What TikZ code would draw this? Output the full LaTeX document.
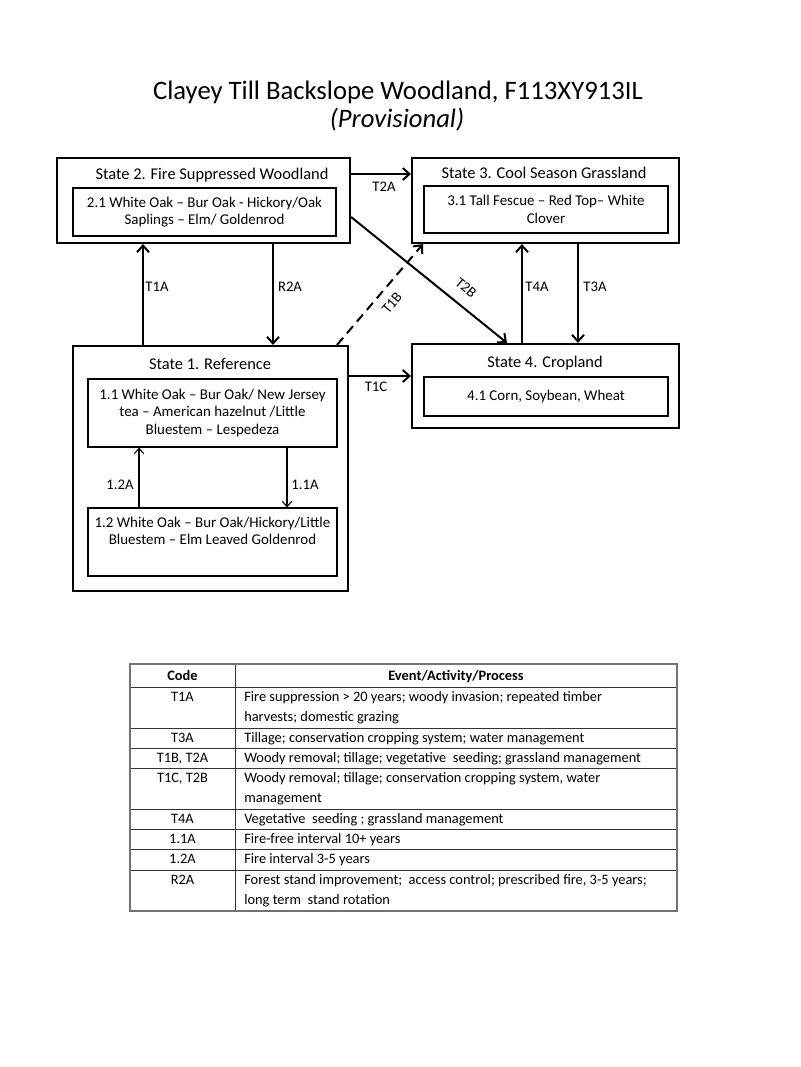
\documentclass[tikz,border=0pt]{standalone}
\usepackage{fontspec}
\setmainfont{Carlito}
\usetikzlibrary{arrows.meta,calc}
\newcommand\myd{\fontsize{11.2}{13.1}\selectfont}
\newcommand\mys{\fontsize{12.3}{14}\selectfont}
\newcommand\myl{\fontsize{11}{13}\selectfont}
\newcommand\myt{\fontsize{10.8}{12}\selectfont}
\newcommand\myh{\fontsize{20}{24}\selectfont}
\begin{document}
\begin{tikzpicture}[x=0.75pt,y=-0.75pt,
  outerbox/.style={draw, line width=1.6pt, inner sep=0pt},
  innerbox/.style={draw, line width=0.8pt, inner sep=0pt, align=center, font=\myd},
  ttl/.style={font=\mys, anchor=base},
  lbl/.style={font=\myl, inner sep=1pt},
  thk/.style={line width=1.5pt, -{Straight Barb[length=5pt,width=9pt]}},
  thn/.style={line width=0.8pt, -{Straight Barb[length=4pt,width=7pt]}},
  tline/.style={line width=0.7pt, draw=black!80},
  tframe/.style={line width=1pt, draw=black!55},
  tcell/.style={font=\myt, anchor=base west, inner sep=0pt},
  tcode/.style={font=\myt, anchor=base, inner sep=0pt}]
\useasboundingbox (0,0) rectangle (800,1067);
\fill[white] (0,0) rectangle (800,1067);

% titles
\node[font=\myh, anchor=base] (title) at (398,99) {Clayey Till Backslope Woodland, F113XY913IL};
\node[font=\myh\itshape, anchor=base] (subtitle) at (397,127) {(Provisional)};

% state boxes
\node[outerbox, minimum width=219.75pt, minimum height=63.75pt] (s2) at (203.5,200.5) {};
\node[outerbox, minimum width=200.25pt, minimum height=63.75pt] (s3) at (545.5,200.5) {};
\node[outerbox, minimum width=200.25pt, minimum height=63pt] (s4) at (545.5,386) {};
\node[outerbox, minimum width=206.25pt, minimum height=183.75pt] (s1) at (210.5,468.5) {};

\node[ttl] (s2t) at (212,179) {State 2. Fire Suppressed Woodland};
\node[ttl] (s3t) at (544,178) {State 3. Cool Season Grassland};
\node[ttl] (s4t) at (545,367) {State 4. Cropland};
\node[ttl] (s1t) at (210,369) {State 1. Reference};

% community boxes
\node[innerbox, minimum width=197.25pt, minimum height=36pt] (i21) at (204.5,212)
  {2.1 White Oak -- Bur Oak - Hickory/Oak\\Saplings -- Elm/ Goldenrod};
\node[innerbox, minimum width=183pt, minimum height=35.25pt] (i31) at (546,209.5)
  {3.1 Tall Fescue -- Red Top-- White\\Clover};
\node[innerbox, minimum width=183pt, minimum height=29.25pt] (i41) at (546,396.5)
  {4.1 Corn, Soybean, Wheat};
\node[innerbox, minimum width=186.75pt, minimum height=51pt] (i11) at (212.5,413)
  {1.1 White Oak -- Bur Oak/ New Jersey\\tea -- American hazelnut /Little\\Bluestem -- Lespedeza};
\node[innerbox, minimum width=186.75pt, minimum height=51pt] (i12) at (212.5,542)
  {1.2 White Oak -- Bur Oak/Hickory/Little\\Bluestem -- Elm Leaved Goldenrod\\ \strut};

% helper coordinates
\coordinate (xa) at (143,0);
\coordinate (xb) at (273,0);
\coordinate (xc) at (507,0);
\coordinate (xd) at (337,0);
\coordinate (xe) at (423,0);
\coordinate (xf) at (522,0);
\coordinate (xg) at (578,0);
\coordinate (xh) at (139,0);
\coordinate (xi) at (287,0);
\coordinate (ya) at (0,174);
\coordinate (yb) at (0,376);
\coordinate (yc) at (0,217);

% transitions
\draw[thk] (s1.north -| xa) -- (s2.south -| xa);
\draw[thk] (s2.south -| xb) -- (s1.north -| xb);
\draw[thk] (s2.east |- ya) -- (s3.west |- ya);
\draw[thk] (s1.east |- yb) -- (s4.west |- yb);
\draw[thk] (s2.east |- yc) -- (s4.north -| xc);
\draw[thk, dash pattern=on 7pt off 4.5pt] (s1.north -| xd) -- (s3.south -| xe);
\draw[thk] (s4.north -| xf) -- (s3.south -| xf);
\draw[thk] (s3.south -| xg) -- (s4.north -| xg);
\draw[thn] (i12.north -| xh) -- (i11.south -| xh);
\draw[thn] (i11.south -| xi) -- (i12.north -| xi);

% labels
\node[lbl] (lT1A) at (157,287) {T1A};
\node[lbl] (lR2A) at (290,287) {R2A};
\node[lbl] (lT2A) at (384,187) {T2A};
\node[lbl] (lT1C) at (376,387) {T1C};
\node[lbl, rotate=50, inner sep=0pt] (lT1B) at (392,303) {T1B};
\node[lbl, rotate=-40, inner sep=0pt] (lT2B) at (466,288) {T2B};
\node[lbl] (lT4A) at (537,287) {T4A};
\node[lbl] (lT3A) at (595,287) {T3A};
\node[lbl] (l12A) at (120,485) {1.2A};
\node[lbl] (l11A) at (305,485) {1.1A};

% table
\foreach \yy in {687,728,748,768,809,829,849,870}
  \draw[tline] (130,\yy) -- (677,\yy);
\draw[tline] (235,664) -- (235,911);
\draw[tframe] (130,664) rectangle (677,911);

\node[tcode, font=\myt\bfseries] (hc) at (182.5,680) {Code};
\node[tcode, font=\myt\bfseries] (he) at (456,680) {Event/Activity/Process};

\node[tcode] (c1) at (182.5,701.5) {T1A};
\node[tcell] (e1a) at (244,701.5) {Fire suppression > 20 years; woody invasion; repeated timber};
\node[tcell] (e1b) at (244,721.5) {harvests; domestic grazing};
\node[tcode] (c2) at (182.5,742.5) {T3A};
\node[tcell] (e2) at (244,742.5) {Tillage; conservation cropping system; water management};
\node[tcode] (c3) at (182.5,762.5) {T1B, T2A};
\node[tcell] (e3) at (244,762.5) {Woody removal; tillage; vegetative\ \ seeding; grassland management};
\node[tcode] (c4) at (182.5,782.5) {T1C, T2B};
\node[tcell] (e4a) at (244,782.5) {Woody removal; tillage; conservation cropping system, water};
\node[tcell] (e4b) at (244,802.5) {management};
\node[tcode] (c5) at (182.5,823.5) {T4A};
\node[tcell] (e5) at (244,823.5) {Vegetative\ \ seeding ; grassland management};
\node[tcode] (c6) at (182.5,843.5) {1.1A};
\node[tcell] (e6) at (244,843.5) {Fire-free interval 10+ years};
\node[tcode] (c7) at (182.5,863.5) {1.2A};
\node[tcell] (e7) at (244,863.5) {Fire interval 3-5 years};
\node[tcode] (c8) at (182.5,884.5) {R2A};
\node[tcell] (e8a) at (244,884.5) {Forest stand improvement;\ \ access control; prescribed fire, 3-5 years;};
\node[tcell] (e8b) at (244,904.5) {long term\ \ stand rotation};
\end{tikzpicture}
\end{document}
